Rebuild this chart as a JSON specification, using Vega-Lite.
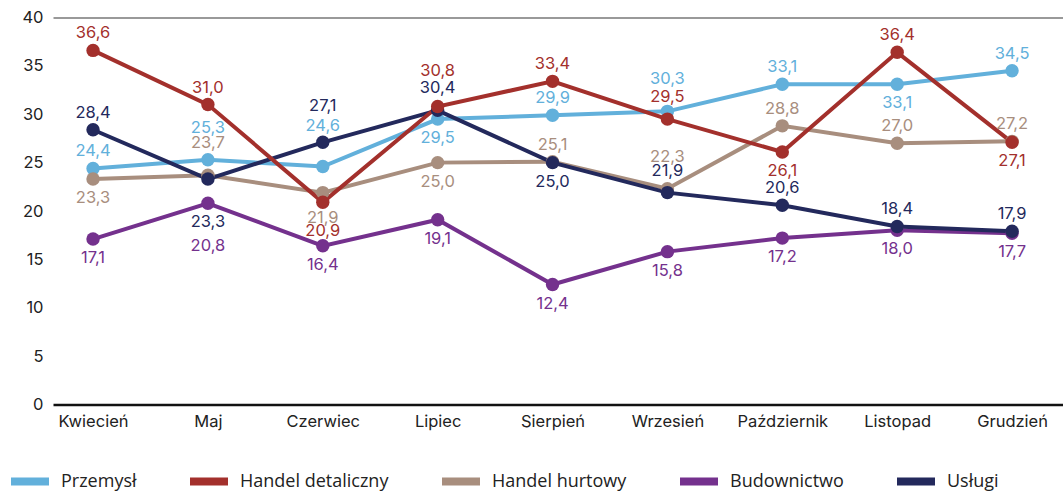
{
  "$schema": "https://vega.github.io/schema/vega-lite/v6.json",
  "width": 1010,
  "height": 387,
  "autosize": "none",
  "padding": {"left": 53, "top": 17.5, "right": 0, "bottom": 86.5},
  "background": "white",
  "config": {
    "view": {"stroke": null},
    "locale": {"number": {"decimal": ",", "thousands": "\u00a0", "grouping": [3], "currency": ["", " zł"]}},
    "text": {"font": "Inter", "fontSize": 16.5, "baseline": "middle", "align": "center"}
  },
  "data": {
    "values": [
      {"m": "Kwiecień", "s": "Przemysł", "v": 24.4},
      {"m": "Maj", "s": "Przemysł", "v": 25.3},
      {"m": "Czerwiec", "s": "Przemysł", "v": 24.6},
      {"m": "Lipiec", "s": "Przemysł", "v": 29.5},
      {"m": "Sierpień", "s": "Przemysł", "v": 29.9},
      {"m": "Wrzesień", "s": "Przemysł", "v": 30.3},
      {"m": "Październik", "s": "Przemysł", "v": 33.1},
      {"m": "Listopad", "s": "Przemysł", "v": 33.1},
      {"m": "Grudzień", "s": "Przemysł", "v": 34.5},
      {"m": "Kwiecień", "s": "Handel hurtowy", "v": 23.3},
      {"m": "Maj", "s": "Handel hurtowy", "v": 23.7},
      {"m": "Czerwiec", "s": "Handel hurtowy", "v": 21.9},
      {"m": "Lipiec", "s": "Handel hurtowy", "v": 25.0},
      {"m": "Sierpień", "s": "Handel hurtowy", "v": 25.1},
      {"m": "Wrzesień", "s": "Handel hurtowy", "v": 22.3},
      {"m": "Październik", "s": "Handel hurtowy", "v": 28.8},
      {"m": "Listopad", "s": "Handel hurtowy", "v": 27.0},
      {"m": "Grudzień", "s": "Handel hurtowy", "v": 27.2},
      {"m": "Kwiecień", "s": "Budownictwo", "v": 17.1},
      {"m": "Maj", "s": "Budownictwo", "v": 20.8},
      {"m": "Czerwiec", "s": "Budownictwo", "v": 16.4},
      {"m": "Lipiec", "s": "Budownictwo", "v": 19.1},
      {"m": "Sierpień", "s": "Budownictwo", "v": 12.4},
      {"m": "Wrzesień", "s": "Budownictwo", "v": 15.8},
      {"m": "Październik", "s": "Budownictwo", "v": 17.2},
      {"m": "Listopad", "s": "Budownictwo", "v": 18.0},
      {"m": "Grudzień", "s": "Budownictwo", "v": 17.7},
      {"m": "Kwiecień", "s": "Usługi", "v": 28.4},
      {"m": "Maj", "s": "Usługi", "v": 23.3},
      {"m": "Czerwiec", "s": "Usługi", "v": 27.1},
      {"m": "Lipiec", "s": "Usługi", "v": 30.4},
      {"m": "Sierpień", "s": "Usługi", "v": 25.0},
      {"m": "Wrzesień", "s": "Usługi", "v": 21.9},
      {"m": "Październik", "s": "Usługi", "v": 20.6},
      {"m": "Listopad", "s": "Usługi", "v": 18.4},
      {"m": "Grudzień", "s": "Usługi", "v": 17.9},
      {"m": "Kwiecień", "s": "Handel detaliczny", "v": 36.6},
      {"m": "Maj", "s": "Handel detaliczny", "v": 31.0},
      {"m": "Czerwiec", "s": "Handel detaliczny", "v": 20.9},
      {"m": "Lipiec", "s": "Handel detaliczny", "v": 30.8},
      {"m": "Sierpień", "s": "Handel detaliczny", "v": 33.4},
      {"m": "Wrzesień", "s": "Handel detaliczny", "v": 29.5},
      {"m": "Październik", "s": "Handel detaliczny", "v": 26.1},
      {"m": "Listopad", "s": "Handel detaliczny", "v": 36.4},
      {"m": "Grudzień", "s": "Handel detaliczny", "v": 27.1}
    ]
  },
  "transform": [{"calculate": "datum.m + '|' + datum.s", "as": "k"}],
  "encoding": {
    "x": {
      "field": "m", "type": "ordinal",
      "sort": ["Kwiecień", "Maj", "Czerwiec", "Lipiec", "Sierpień", "Wrzesień", "Październik", "Listopad", "Grudzień"],
      "scale": {"type": "point", "padding": 0.396, "align": 0.44},
      "axis": {"title": null, "labelAngle": 0, "domain": true, "domainColor": "#111111", "domainWidth": 2.5, "ticks": false, "labelPadding": 9, "labelFont": "Inter", "labelFontSize": 16.5, "labelColor": "#222222", "grid": false}
    },
    "y": {
      "field": "v", "type": "quantitative",
      "scale": {"domain": [0, 40], "nice": false, "zero": true},
      "axis": {"title": null, "values": [0, 5, 10, 15, 20, 25, 30, 35, 40], "domain": false, "ticks": false, "labelPadding": 10, "labelFont": "Inter", "labelFontSize": 16.5, "labelColor": "#222222", "grid": true, "gridColor": "#777777", "gridWidth": 1.5, "gridOpacity": {"condition": {"test": "datum.value == 40", "value": 1}, "value": 0}}
    },
    "color": {
      "field": "s", "type": "nominal",
      "scale": {
        "domain": ["Przemysł", "Handel detaliczny", "Handel hurtowy", "Budownictwo", "Usługi"],
        "range": ["#62B0DB", "#A3302C", "#A88E7E", "#74318D", "#23295C"]
      },
      "legend": {
        "title": null, "orient": "none", "direction": "horizontal", "legendX": -46, "legendY": 441,
        "symbolType": "stroke", "symbolSize": 1444, "symbolStrokeWidth": 8, "symbolOpacity": 1,
        "labelFont": "Open Sans", "labelFontSize": 18, "labelBaseline": "middle", "labelColor": "#222222", "labelOffset": 8, "columnPadding": 37
      }
    }
  },
  "layer": [
    {"mark": {"type": "line", "strokeWidth": 4}, "encoding": {"detail": {"field": "s"}}},
    {"mark": {"type": "circle", "size": 180, "opacity": 1}},
    {
      "transform": [{"filter": {"field": "k", "oneOf": ["Kwiecień|Handel detaliczny","Kwiecień|Usługi","Kwiecień|Przemysł","Maj|Handel detaliczny","Sierpień|Handel detaliczny","Sierpień|Przemysł","Sierpień|Handel hurtowy","Październik|Przemysł","Październik|Handel hurtowy","Październik|Usługi","Listopad|Handel detaliczny","Listopad|Handel hurtowy","Listopad|Usługi","Grudzień|Przemysł","Grudzień|Handel hurtowy","Grudzień|Usługi"]}}],
      "mark": {"type": "text", "dy": -17},
      "encoding": {"text": {"field": "v", "type": "quantitative", "format": ".1f"}}
    },
    {
      "transform": [{"filter": {"field": "k", "oneOf": ["Lipiec|Usługi","Wrzesień|Usługi","Wrzesień|Handel detaliczny"]}}],
      "mark": {"type": "text", "dy": -22},
      "encoding": {"text": {"field": "v", "type": "quantitative", "format": ".1f"}}
    },
    {
      "transform": [{"filter": {"field": "k", "oneOf": ["Maj|Przemysł","Maj|Handel hurtowy","Wrzesień|Przemysł","Wrzesień|Handel hurtowy"]}}],
      "mark": {"type": "text", "dy": -32},
      "encoding": {"text": {"field": "v", "type": "quantitative", "format": ".1f"}}
    },
    {
      "transform": [{"filter": {"field": "k", "oneOf": ["Czerwiec|Usługi","Lipiec|Handel detaliczny"]}}],
      "mark": {"type": "text", "dy": -36},
      "encoding": {"text": {"field": "v", "type": "quantitative", "format": ".1f"}}
    },
    {
      "transform": [{"filter": {"field": "k", "oneOf": ["Czerwiec|Przemysł"]}}],
      "mark": {"type": "text", "dy": -40},
      "encoding": {"text": {"field": "v", "type": "quantitative", "format": ".1f"}}
    },
    {
      "transform": [{"filter": {"field": "k", "oneOf": ["Kwiecień|Handel hurtowy","Kwiecień|Budownictwo","Czerwiec|Budownictwo","Lipiec|Przemysł","Lipiec|Handel hurtowy","Lipiec|Budownictwo","Sierpień|Usługi","Sierpień|Budownictwo","Wrzesień|Budownictwo","Październik|Handel detaliczny","Październik|Budownictwo","Listopad|Przemysł","Listopad|Budownictwo","Grudzień|Handel detaliczny","Grudzień|Budownictwo"]}}],
      "mark": {"type": "text", "dy": 19},
      "encoding": {"text": {"field": "v", "type": "quantitative", "format": ".1f"}}
    },
    {
      "transform": [{"filter": {"field": "k", "oneOf": ["Czerwiec|Handel hurtowy"]}}],
      "mark": {"type": "text", "dy": 25},
      "encoding": {"text": {"field": "v", "type": "quantitative", "format": ".1f"}}
    },
    {
      "transform": [{"filter": {"field": "k", "oneOf": ["Czerwiec|Handel detaliczny"]}}],
      "mark": {"type": "text", "dy": 29},
      "encoding": {"text": {"field": "v", "type": "quantitative", "format": ".1f"}}
    },
    {
      "transform": [{"filter": {"field": "k", "oneOf": ["Maj|Usługi","Maj|Budownictwo"]}}],
      "mark": {"type": "text", "dy": 43},
      "encoding": {"text": {"field": "v", "type": "quantitative", "format": ".1f"}}
    }
  ]
}
